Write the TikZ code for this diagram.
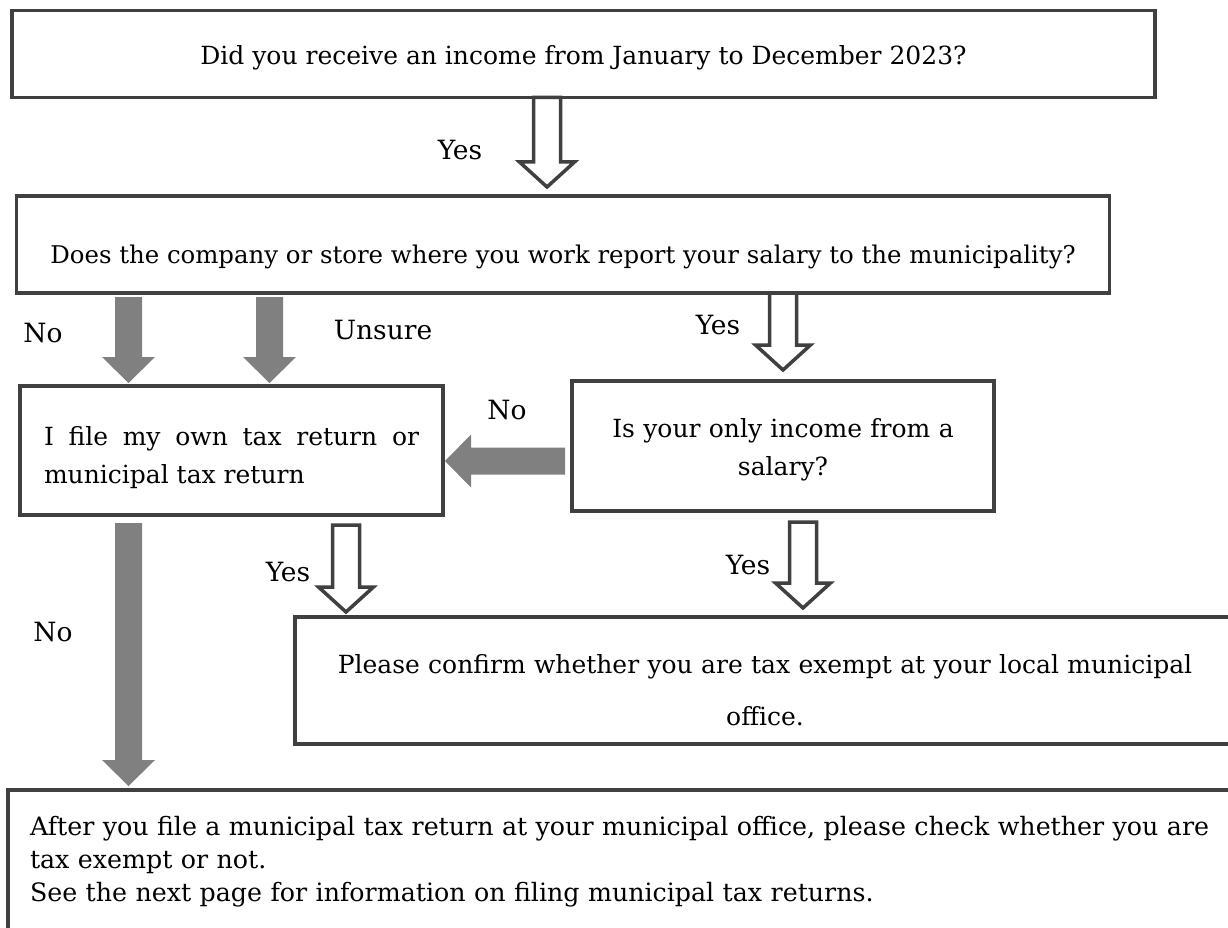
\documentclass[tikz,border=0pt]{standalone}
\usepackage{fontspec}
\setmainfont{DejaVu Serif}
\usetikzlibrary{calc}
\definecolor{boxgray}{HTML}{404040}
\definecolor{arrowgray}{HTML}{808080}
\tikzset{
  box/.style={draw=boxgray, line width=3.5pt, fill=white, inner sep=0pt, outer sep=0pt,
    font=\fontsize{25}{38}\selectfont},
  lbl/.style={inner sep=0pt, font=\fontsize{26.5}{30}\selectfont},
  hollow/.style={draw=boxgray, line width=3.5pt, fill=white, line join=miter},
  solidarrow/.style={fill=arrowgray},
}
% hollow block arrow pointing down: #1 x (pt), #2 top point, #3 tip point
\newcommand\hollowdown[3]{%
  \path[hollow] let \p1=(#2), \p2=(#3) in
    (#1-13.5pt,\y1) -- (#1-13.5pt,\y2+25pt) -- (#1-27.5pt,\y2+25pt) -- (#1,\y2)
    -- (#1+27.5pt,\y2+25pt) -- (#1+13.5pt,\y2+25pt) -- (#1+13.5pt,\y1) -- cycle;}
% solid grey block arrow pointing down
\newcommand\greydown[3]{%
  \path[solidarrow] let \p1=(#2), \p2=(#3) in
    (#1-13.5pt,\y1) -- (#1-13.5pt,\y2+26pt) -- (#1-26.5pt,\y2+26pt) -- (#1,\y2)
    -- (#1+26.5pt,\y2+26pt) -- (#1+13.5pt,\y2+26pt) -- (#1+13.5pt,\y1) -- cycle;}
% solid grey block arrow pointing left: #1 tail point, #2 tip point, #3 point giving y
\newcommand\greyleft[3]{%
  \path[solidarrow] let \p1=(#1), \p2=(#2), \p3=(#3) in
    (\x1,\y3-13.5pt) -- (\x2+26pt,\y3-13.5pt) -- (\x2+26pt,\y3-26.5pt) -- (\x2,\y3)
    -- (\x2+26pt,\y3+26.5pt) -- (\x2+26pt,\y3+13.5pt) -- (\x1,\y3+13.5pt) -- cycle;}
\begin{document}
\begin{tikzpicture}[x=1pt,y=-1pt]
\useasboundingbox (0,0) rectangle (1228,928);
\fill[white] (0,0) rectangle (1228,928);
\clip (0,0) rectangle (1228,928);

\node[box, minimum width=1143pt, minimum height=87pt, text height=22pt, text depth=0pt]
  (q1) at (583.5,54) {Did you receive an income from January to December 2023?};
\node[box, minimum width=1093pt, minimum height=97pt, text height=37pt, text depth=0pt,
  font=\fontsize{24.4}{30}\selectfont]
  (q2) at (563,244.5) {Does the company or store where you work report your salary to the municipality?};
\node[box, minimum width=423pt, minimum height=129pt, text width=375pt, align=justify,
  text height=18pt, text depth=29pt]
  (own) at (231.5,450.5) {I file my own tax return or\linebreak municipal tax return};
\node[box, minimum width=422pt, minimum height=130pt, text width=400pt, align=center,
  text height=18pt, text depth=36pt]
  (q3) at (783,446) {Is your only income from a\\salary?};
\node[box, minimum width=940pt, minimum height=127pt, text width=920pt, align=center,
  font=\fontsize{25}{52}\selectfont, text height=18pt, text depth=33pt]
  (exempt) at (765,680.5) {Please confirm whether you are tax exempt at your local municipal\\office.};
\node[box, minimum width=1244pt, minimum height=170pt, text width=1200pt, align=left,
  font=\fontsize{25.3}{33}\selectfont, text height=18pt, text depth=98pt]
  (file) at (630,875) {After you file a municipal tax return at your municipal office, please check whether you are\\tax exempt or not.\\See the next page for information on filing municipal tax returns.};

% connectors
\hollowdown{547pt}{q1.south}{$(q2.north)+(0,-9)$}
\hollowdown{783pt}{q2.south}{$(q3.north)+(0,-11)$}
\hollowdown{346pt}{$(own.south)+(0,10)$}{$(exempt.north)+(0,-5)$}
\hollowdown{803pt}{$(q3.south)+(0,11)$}{$(exempt.north)+(0,-9)$}
\greydown{128.5pt}{$(q2.south)+(0,4)$}{$(own.north)+(0,-3)$}
\greydown{269.5pt}{$(q2.south)+(0,4)$}{$(own.north)+(0,-3)$}
\greydown{128.5pt}{$(own.south)+(0,8)$}{$(file.north)+(0,-4)$}
\greyleft{$(q3.west)+(-7,0)$}{$(own.east)+(2,0)$}{0,461}

% labels
\node[lbl] (yes1) at (460,150) {Yes};
\node[lbl] (no1) at (43,333) {No};
\node[lbl] (unsure) at (383,330) {Unsure};
\node[lbl] (yes2) at (718,325) {Yes};
\node[lbl] (no2) at (507,410) {No};
\node[lbl] (yes3) at (288,572) {Yes};
\node[lbl] (yes4) at (748,565) {Yes};
\node[lbl] (no3) at (53,632) {No};
\end{tikzpicture}
\end{document}
